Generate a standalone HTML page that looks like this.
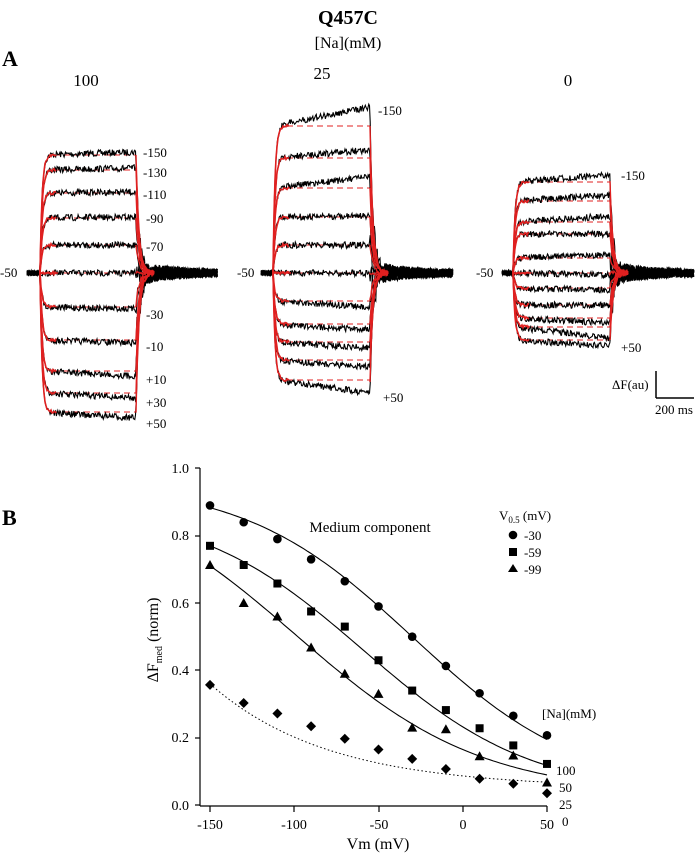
<!DOCTYPE html>
<html><head><meta charset="utf-8"><style>
html,body{margin:0;padding:0;background:#fff;}
svg{display:block;font-family:"Liberation Serif",serif;}
</style></head><body>
<svg id="s" width="696" height="853" viewBox="0 0 696 853" xmlns="http://www.w3.org/2000/svg">
<text x="348" y="24" font-size="20" font-weight="bold" text-anchor="middle">Q457C</text>
<text x="348" y="48" font-size="16" text-anchor="middle">[Na](mM)</text>
<text x="2" y="66" font-size="22" font-weight="bold">A</text>
<text x="86" y="86" font-size="17" text-anchor="middle">100</text>
<text x="322" y="79" font-size="17" text-anchor="middle">25</text>
<text x="568" y="86" font-size="17" text-anchor="middle">0</text>
<g font-size="13">
<text x="0" y="277">-50</text>
<text x="143" y="157">-150</text><text x="143" y="177">-130</text><text x="143" y="199">-110</text><text x="146" y="223">-90</text><text x="146" y="251">-70</text>
<text x="146" y="319">-30</text><text x="146" y="351">-10</text><text x="146" y="384">+10</text><text x="146" y="407">+30</text><text x="146" y="428">+50</text>
<text x="237" y="277">-50</text>
<text x="378" y="115">-150</text><text x="383" y="402">+50</text>
<text x="476" y="277">-50</text>
<text x="621" y="180">-150</text><text x="621" y="352">+50</text>
<text x="612" y="389">ΔF(au)</text>
<text x="655" y="414">200 ms</text>
</g>
<line x1="656" y1="371" x2="656" y2="398" stroke="#000" stroke-width="1.5"/>
<line x1="656" y1="398" x2="694" y2="398" stroke="#000" stroke-width="1.5"/>
<g id="traces"></g>

<text x="2" y="525" font-size="22" font-weight="bold">B</text>
<text x="370" y="532" font-size="15" text-anchor="middle">Medium component</text>
<g font-size="14" text-anchor="end">
<text x="189" y="473">1.0</text><text x="189" y="540">0.8</text><text x="189" y="608">0.6</text>
<text x="189" y="675">0.4</text><text x="189" y="742">0.2</text><text x="189" y="810">0.0</text>
</g>
<g font-size="14" text-anchor="middle">
<text x="210" y="829">-150</text><text x="294" y="829">-100</text><text x="379" y="829">-50</text>
<text x="463" y="829">0</text><text x="547" y="829">50</text>
<text x="378" y="849" font-size="16">Vm (mV)</text>
</g>
<text transform="translate(158,640) rotate(-90)" font-size="16" text-anchor="middle">ΔF<tspan font-size="10" dy="4">med</tspan><tspan dy="-4"> (norm)</tspan></text>
<g stroke="#000" stroke-width="1.2">
<line x1="200" y1="468" x2="200" y2="806"/>
<line x1="200" y1="806" x2="547" y2="806"/>
<line x1="195" y1="468" x2="200" y2="468"/><line x1="195" y1="536" x2="200" y2="536"/><line x1="195" y1="603" x2="200" y2="603"/><line x1="195" y1="670" x2="200" y2="670"/><line x1="195" y1="738" x2="200" y2="738"/><line x1="195" y1="805" x2="200" y2="805"/>
<line x1="210" y1="806" x2="210" y2="812"/><line x1="294" y1="806" x2="294" y2="812"/><line x1="379" y1="806" x2="379" y2="812"/><line x1="463" y1="806" x2="463" y2="812"/><line x1="547" y1="806" x2="547" y2="812"/>
</g>
<g font-size="13">
<text x="499" y="520">V<tspan font-size="9" dy="3">0.5</tspan><tspan dy="-3"> (mV)</tspan></text>
<circle cx="513" cy="535" r="4.3"/><text x="524" y="540">-30</text>
<rect x="509" y="548" width="8" height="8"/><text x="524" y="557">-59</text>
<polygon points="513,564 518,572 508,572"/><text x="524" y="574">-99</text>
<text x="542" y="718">[Na](mM)</text>
<text x="556" y="775">100</text><text x="559" y="792">50</text><text x="559" y="809">25</text><text x="562" y="826">0</text>
</g>
<g id="plot"></g>
</svg>
<script>
(function(){
var NS="http://www.w3.org/2000/svg";
function el(p,t,a){var e=document.createElementNS(NS,t);for(var k in a)e.setAttribute(k,a[k]);p.appendChild(e);return e;}
var seed=7;function rnd(){seed=(seed*16807)%2147483647;return seed/2147483647-0.5;}
var T=document.getElementById("traces");
var panels=[
 {x0:27,on:40,off:136,x1:218,base:273,
  red:[155,170,193,218,245,273,307,340,371,393,412],
  blk:[152,168,192,217,245,273,309,343,376,398,418]},
 {x0:261,on:273,off:370,x1:453,base:273,
  red:[126,158,188,217,245,273,301,324,342,360,380],
  blk:[107,150,177,216,245,273,307,330,348,367,393]},
 {x0:502,on:513,off:610,x1:694,base:273,
  red:[182,201,222,234,258,273,288,305,318,327,340],
  blk:[175,195,216,234,255,275,290,305,323,338,346]}
];
panels.forEach(function(P){
 P.red.forEach(function(r){el(T,"line",{x1:P.on+14,y1:r,x2:P.off,y2:r,stroke:"#e02020","stroke-width":1.1,"stroke-dasharray":"6,4"});});
 P.blk.forEach(function(b,i){
  var r=P.red[i],d="",x;
  for(x=P.x0;x<=P.x1;x+=0.7){
   var y,n;
   if(x<P.on){y=P.base;n=2.5;}
   else if(x<=P.off){var t=(x-P.on),f=(x-P.on)/(P.off-P.on);
     var lvl=r+(b-r)*f;y=P.base+(lvl-P.base)*(1-Math.exp(-t/2));n=3.2;}
   else{var t2=x-P.off;y=P.base+(b-P.base)*Math.exp(-t2/3);n=3+9*Math.exp(-t2/40);}
   y+=rnd()*n*2;
   d+=(x==P.x0?"M":"L")+x.toFixed(1)+","+y.toFixed(1);
  }
  el(T,"path",{d:d,fill:"none",stroke:"#000","stroke-width":1.1});
 });
 P.red.forEach(function(r){
  var d="";
  for(var x=P.on;x<=P.on+16;x+=1){var t=x-P.on;var y=P.base+(r-P.base)*(1-Math.exp(-t/2))+rnd()*3;d+=(x==P.on?"M":"L")+x+","+y.toFixed(1);}
  el(T,"path",{d:d,fill:"none",stroke:"#e02020","stroke-width":1.6});
  var d2="M"+P.off+","+r;
  for(var x=P.off;x<=P.off+18;x+=1){var t=x-P.off;var y=P.base+(r-P.base)*Math.exp(-t/3)+rnd()*4;d2+="L"+x+","+y.toFixed(1);}
  el(T,"path",{d:d2,fill:"none",stroke:"#e02020","stroke-width":1.4});
 });
 el(T,"line",{x1:P.on,y1:P.base,x2:P.on+18,y2:P.base,stroke:"#e02020","stroke-width":1.5});
});
var G=document.getElementById("plot");
function X(v){return 210+(v+150)*1.685;}function Y(v){return 805-336.6*v;}
function curve(f,dot){var d="";for(var v=-150;v<=50;v+=2){d+=(v==-150?"M":"L")+X(v).toFixed(1)+","+Y(f(v)).toFixed(1);}
 var a={d:d,fill:"none",stroke:"#000","stroke-width":dot?1:1.1};if(dot)a["stroke-dasharray"]="1.5,2.5";el(G,"path",a);}
curve(function(v){return 0.04+0.92/(1+Math.exp((v+30)/50));});
curve(function(v){return 0.03+0.86/(1+Math.exp((v+59)/50));});
curve(function(v){return 0.03+0.95/(1+Math.exp((v+99)/55));});
curve(function(v){return 0.05+0.31*Math.exp(-(v+150)/70);},true);
var V=[-150,-130,-110,-90,-70,-50,-30,-10,10,30,50];
var C=[0.89,0.84,0.79,0.73,0.665,0.59,0.50,0.413,0.332,0.265,0.207];
var S=[0.77,0.713,0.658,0.575,0.53,0.43,0.34,0.282,0.228,0.177,0.122];
var Tr=[0.713,0.60,0.56,0.468,0.39,0.33,0.23,0.225,0.145,0.147,0.067];
var D=[0.357,0.303,0.272,0.234,0.197,0.165,0.137,0.107,0.078,0.063,0.035];
V.forEach(function(v,i){var x=X(v);
 el(G,"circle",{cx:x,cy:Y(C[i]),r:4.3});
 el(G,"rect",{x:x-4,y:Y(S[i])-4,width:8,height:8});
 var y=Y(Tr[i]);el(G,"polygon",{points:x+","+(y-5)+" "+(x+5)+","+(y+4)+" "+(x-5)+","+(y+4)});
 y=Y(D[i]);el(G,"polygon",{points:x+","+(y-5)+" "+(x+5)+","+y+" "+x+","+(y+5)+" "+(x-5)+","+y});
});
})();
</script>
</body></html>
